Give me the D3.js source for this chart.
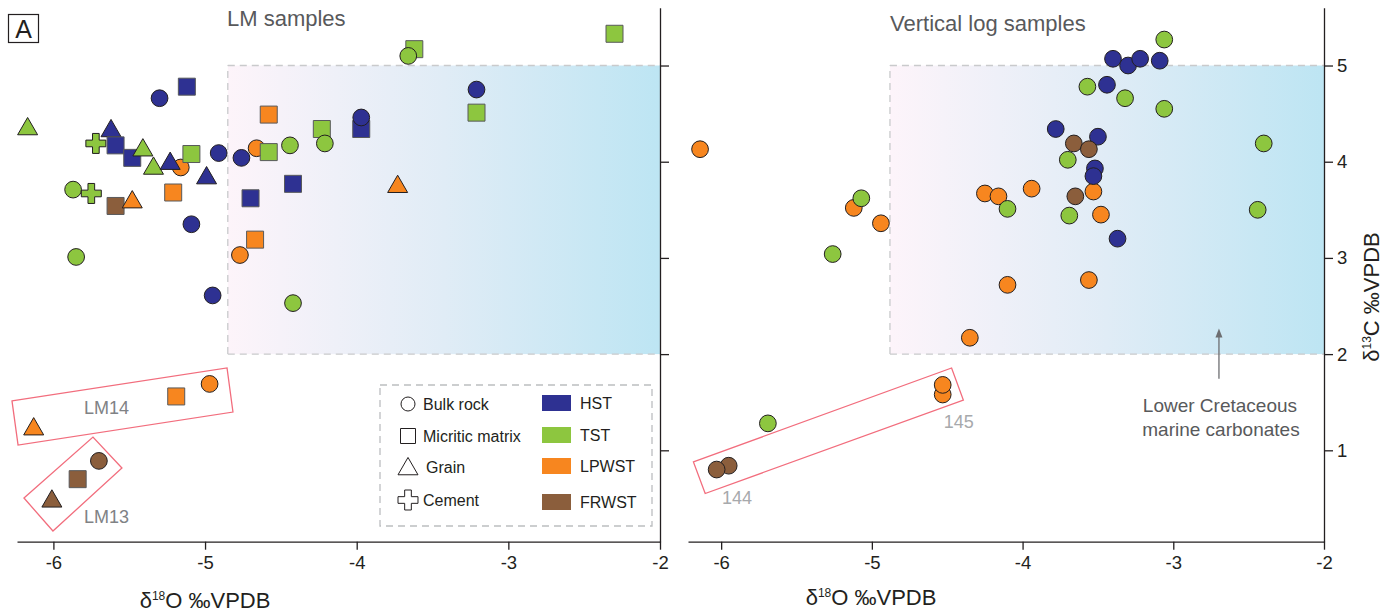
<!DOCTYPE html>
<html>
<head>
<meta charset="utf-8">
<script src="https://cdn.jsdelivr.net/npm/d3@7"></script>
<style>
  body { margin: 0; background: #fff; }
  svg { display: block; font-family: "Liberation Sans", Arial, sans-serif; }
</style>
</head>
<body>
<svg id="chart" width="1386" height="615"></svg>
<script>
const svg = d3.select("#chart");

// categories
const sequences = ["HST", "TST", "LPWST", "FRWST"];
const sequenceColours = ["#2e3192", "#8dc63f", "#f7861f", "#8b5e3c"];
const sampleTypes = ["Bulk rock", "Micritic matrix", "Grain", "Cement"];
const xTicks = [-6, -5, -4, -3, -2];
const yTicks = [1, 2, 3, 4, 5];

// LM samples (left panel)
const lmO18 = [-6.17, -5.30, -5.12, -5.72, -5.62, -5.59, -5.48, -5.41, -5.34, -5.16,
  -5.23, -5.09, -4.91, -4.99, -5.21, -5.87, -5.75, -5.59, -5.48, -5.09,
  -5.85, -4.95, -4.76, -4.66, -4.58, -4.44, -4.58, -4.70, -4.42, -4.67,
  -4.77, -4.42, -4.23, -4.21, -3.97, -3.97, -3.73, -3.21, -3.21, -3.62,
  -3.66, -2.30, -6.13, -5.19, -4.97, -5.70, -5.84, -6.01];
const lmC13 = [4.34, 4.66, 4.78, 4.19, 4.32, 4.17, 4.04, 4.12, 3.93, 3.94,
  3.98, 4.08, 4.09, 3.83, 3.68, 3.71, 3.67, 3.54, 3.58, 3.35,
  3.01, 2.61, 4.04, 4.14, 4.10, 4.17, 4.49, 3.62, 3.77, 3.19,
  3.03, 2.53, 4.34, 4.19, 4.34, 4.46, 3.74, 4.75, 4.51, 5.17,
  5.10, 5.33, 1.22, 1.56, 1.69, 0.89, 0.70, 0.47];
const lmSequence = ["TST", "HST", "HST", "TST", "HST", "HST", "HST", "TST", "TST", "LPWST",
  "HST", "TST", "HST", "HST", "LPWST", "TST", "TST", "FRWST", "LPWST", "HST",
  "TST", "HST", "HST", "LPWST", "TST", "TST", "LPWST", "HST", "HST", "LPWST",
  "LPWST", "TST", "TST", "TST", "HST", "HST", "LPWST", "HST", "TST", "TST",
  "TST", "TST", "LPWST", "LPWST", "LPWST", "FRWST", "FRWST", "FRWST"];
const lmType = ["Grain", "Bulk rock", "Micritic matrix", "Cement", "Grain", "Micritic matrix", "Micritic matrix", "Grain", "Grain", "Bulk rock",
  "Grain", "Micritic matrix", "Bulk rock", "Grain", "Micritic matrix", "Bulk rock", "Cement", "Micritic matrix", "Grain", "Bulk rock",
  "Bulk rock", "Bulk rock", "Bulk rock", "Bulk rock", "Micritic matrix", "Bulk rock", "Micritic matrix", "Micritic matrix", "Micritic matrix", "Micritic matrix",
  "Bulk rock", "Bulk rock", "Micritic matrix", "Bulk rock", "Micritic matrix", "Bulk rock", "Grain", "Bulk rock", "Micritic matrix", "Micritic matrix",
  "Bulk rock", "Micritic matrix", "Grain", "Micritic matrix", "Bulk rock", "Bulk rock", "Micritic matrix", "Grain"];

// vertical log samples (right panel, all bulk rock)
const logO18 = [-6.14, -5.12, -4.94, -4.35, -4.25, -4.16, -3.94, -4.10, -3.53, -3.48, -3.56, -4.53, -4.53,
  -5.07, -5.26, -4.10, -3.70, -3.69, -3.57, -3.32, -3.06, -3.06, -2.40, -2.44, -5.69,
  -3.78, -3.50, -3.52, -3.53, -3.37, -3.44, -3.40, -3.30, -3.22, -3.09,
  -3.66, -3.56, -3.65, -5.95, -6.03];
const logC13 = [4.13, 3.52, 3.36, 2.17, 3.67, 3.64, 3.72, 2.72, 3.69, 3.45, 2.77, 1.58, 1.68,
  3.62, 3.04, 3.51, 4.02, 3.44, 4.78, 4.66, 5.27, 4.55, 4.19, 3.50, 1.28,
  4.34, 4.26, 3.93, 3.85, 3.20, 4.80, 5.07, 5.00, 5.07, 5.05,
  4.19, 4.13, 3.64, 0.84, 0.80];
const logSequence = ["LPWST", "LPWST", "LPWST", "LPWST", "LPWST", "LPWST", "LPWST", "LPWST", "LPWST", "LPWST", "LPWST", "LPWST", "LPWST",
  "TST", "TST", "TST", "TST", "TST", "TST", "TST", "TST", "TST", "TST", "TST", "TST",
  "HST", "HST", "HST", "HST", "HST", "HST", "HST", "HST", "HST", "HST",
  "FRWST", "FRWST", "FRWST", "FRWST", "FRWST"];

// marine carbonate field (d18O from, d13C range)
const lmFieldO18 = [-4.85, -2];
const logFieldO18 = [-4.88, -2];
const fieldC13 = [2, 5];

// sample group outlines (corners in d18O / d13C)
const lm14Box = [[-6.273, 1.513], [-4.855, 1.856], [-4.816, 1.398], [-6.233, 1.055]];
const lm13Box = [[-6.194, 0.504], [-5.739, 1.138], [-5.548, 0.816], [-6.003, 0.161]];
const logBox = [[-6.184, 0.880], [-4.471, 1.856], [-4.393, 1.523], [-6.106, 0.551]];

const colour = d3.scaleOrdinal().domain(sequences).range(sequenceColours);

const xLeft = d3.scaleLinear().domain([-6.24, -2]).range([17, 660]);
const xRight = d3.scaleLinear().domain([-6.22, -2]).range([688, 1324]);
const y = d3.scaleLinear().domain([0.05, 5.6]).range([541.7, 7.8]);

function symbolFor(type, legend) {
    if (type === "Bulk rock") return d3.symbol(d3.symbolCircle, Math.PI * (legend ? 49 : 70));
    if (type === "Micritic matrix") return d3.symbol(d3.symbolSquare, legend ? 225 : 289);
    if (type === "Grain") return d3.symbol(d3.symbolTriangle, 173);
    return d3.symbol(d3.symbolCross, 222);
}

function addGradient() {
    const grad = svg.append("defs").append("linearGradient")
        .attr("id", "marine")
        .attr("x1", "0%").attr("x2", "100%").attr("y1", "0%").attr("y2", "0%");
    grad.append("stop").attr("offset", "0%").attr("stop-color", "#fdf4fa");
    grad.append("stop").attr("offset", "50%").attr("stop-color", "#e0ecf6");
    grad.append("stop").attr("offset", "100%").attr("stop-color", "#bde5f3");
}

function drawField(x, o18) {
    const g = svg.append("g");
    g.append("rect")
        .attr("x", x(o18[0]))
        .attr("y", y(fieldC13[1]))
        .attr("width", x(o18[1]) - x(o18[0]))
        .attr("height", y(fieldC13[0]) - y(fieldC13[1]))
        .attr("fill", "url(#marine)");
    const edges = [
        [[o18[0], fieldC13[1]], [o18[1], fieldC13[1]]],
        [[o18[0], fieldC13[0]], [o18[1], fieldC13[0]]],
        [[o18[0], fieldC13[0]], [o18[0], fieldC13[1]]]
    ];
    g.selectAll("line")
        .data(edges)
        .enter()
        .append("line")
            .attr("x1", (d) => x(d[0][0]))
            .attr("y1", (d) => y(d[0][1]))
            .attr("x2", (d) => x(d[1][0]))
            .attr("y2", (d) => y(d[1][1]))
            .attr("stroke", "#c9cacc")
            .attr("stroke-width", 1.3)
            .attr("stroke-dasharray", "7,5");
}

function drawAxes(x, showLabels) {
    const xa = svg.append("g")
        .attr("transform", "translate(0," + y.range()[0] + ")")
        .call(d3.axisBottom(x).tickValues(xTicks).tickFormat((d) => String(d))
            .tickSize(8).tickSizeOuter(0).tickPadding(6));
    const ya = svg.append("g")
        .attr("transform", "translate(" + x(-2) + ",0)")
        .call(d3.axisRight(y).tickValues(yTicks).tickSize(9).tickSizeOuter(0).tickPadding(4)
            .tickFormat((d) => showLabels ? String(d) : ""));
    [xa, ya].forEach((a) => {
        a.select(".domain").attr("stroke", "#231f20").attr("stroke-width", 1.3);
        a.selectAll(".tick line").attr("stroke", "#231f20").attr("stroke-width", 1.3);
        a.selectAll(".tick text").attr("fill", "#231f20").style("font-size", "18.5px")
            .style("font-family", "'Liberation Sans', Arial, sans-serif");
    });
}

function drawBox(x, corners) {
    svg.append("path")
        .attr("d", d3.line().x((d) => x(d[0])).y((d) => y(d[1]))(corners) + "Z")
        .attr("fill", "none")
        .attr("stroke", "#f26d7d")
        .attr("stroke-width", 1.3);
}

function addText(px, py, txt, size, fill, anchor) {
    return svg.append("text")
        .attr("x", px).attr("y", py)
        .attr("text-anchor", anchor || "start")
        .attr("fill", fill)
        .style("font-size", size + "px")
        .text(txt);
}

function drawIsoLabel(cx, by) {
    const t = svg.append("text")
        .attr("x", cx).attr("y", by)
        .attr("text-anchor", "middle")
        .attr("fill", "#231f20")
        .style("font-size", "22px");
    t.append("tspan").text("δ");
    t.append("tspan").attr("dy", -8).style("font-size", "12px").text("18");
    t.append("tspan").attr("dy", 8).text("O ‰VPDB");
}

function drawPoints(x, o18, c13, seq, type) {
    const data = o18.map((v, i) => ({o: v, c: c13[i], s: seq[i], t: type ? type[i] : "Bulk rock"}));
    svg.append("g").selectAll("path")
        .data(data)
        .enter()
        .append("path")
            .attr("d", (d) => symbolFor(d.t, false)())
            .attr("transform", (d) => "translate(" + x(d.o) + "," + y(d.c) + ")")
            .attr("fill", (d) => colour(d.s))
            .attr("stroke", (d) => d.t === "Micritic matrix" ? "#58595b" : "#231f20")
            .attr("stroke-width", 1);
}

function drawLegend() {
    const g = svg.append("g");
    g.append("rect")
        .attr("x", 380).attr("y", 385).attr("width", 272).attr("height", 141)
        .attr("fill", "#fff")
        .attr("stroke", "#bcbec0").attr("stroke-width", 1.3).attr("stroke-dasharray", "7,5");
    const rowY = [404, 436, 467, 500];
    g.selectAll(".ltype")
        .data(sampleTypes)
        .enter()
        .append("path")
            .attr("d", (d) => symbolFor(d, true)())
            .attr("transform", (d, i) => "translate(408," + (rowY[i] + (d === "Grain" ? 2 : 0)) + ")")
            .attr("fill", "#fff")
            .attr("stroke", "#231f20")
            .attr("stroke-width", 1);
    g.selectAll(".ltext")
        .data(sampleTypes)
        .enter()
        .append("text")
            .attr("x", (d) => d === "Grain" ? 426 : 423)
            .attr("y", (d, i) => rowY[i] + 6)
            .attr("fill", "#231f20")
            .style("font-size", "16px")
            .text((d) => d);
    const swY = [395, 427, 458, 494];
    g.selectAll(".swatch")
        .data(sequences)
        .enter()
        .append("rect")
            .attr("x", 542).attr("y", (d, i) => swY[i])
            .attr("width", 29).attr("height", 16)
            .attr("fill", (d) => colour(d));
    g.selectAll(".stext")
        .data(sequences)
        .enter()
        .append("text")
            .attr("x", 580).attr("y", (d, i) => swY[i] + 14)
            .attr("fill", "#231f20")
            .style("font-size", "16px")
            .text((d) => d);
}

function render() {
    addGradient();
    drawField(xLeft, lmFieldO18);
    drawField(xRight, logFieldO18);

    drawAxes(xLeft, false);
    drawAxes(xRight, true);

    // panel letter and titles
    svg.append("rect").attr("x", 8.5).attr("y", 14.5).attr("width", 30).attr("height", 28)
        .attr("fill", "none").attr("stroke", "#231f20").attr("stroke-width", 1.2);
    addText(23.5, 37.5, "A", 25, "#231f20", "middle");
    addText(227, 26, "LM samples", 22, "#58595b");
    addText(890, 31, "Vertical log samples", 22, "#58595b");

    drawIsoLabel(205, 608);
    drawIsoLabel(871, 605);
    const yl = svg.append("text")
        .attr("transform", "translate(1379,297) rotate(-90)")
        .attr("text-anchor", "middle")
        .attr("fill", "#231f20")
        .style("font-size", "22px");
    yl.append("tspan").text("δ");
    yl.append("tspan").attr("dy", -8).style("font-size", "12px").text("13");
    yl.append("tspan").attr("dy", 8).text("C ‰VPDB");

    drawLegend();

    drawBox(xLeft, lm14Box);
    drawBox(xLeft, lm13Box);
    drawBox(xRight, logBox);
    addText(xLeft(-5.65), y(1.44) + 6, "LM14", 18, "#808285", "middle");
    addText(xLeft(-5.65), y(0.31) + 6, "LM13", 18, "#808285", "middle");
    addText(xRight(-5.895), y(0.509) + 6, "144", 18, "#a7a9ac", "middle");
    addText(xRight(-4.424), y(1.294) + 6, "145", 18, "#a7a9ac", "middle");

    // arrow to the marine carbonate field
    const ax = xRight(-2.697);
    svg.append("line")
        .attr("x1", ax).attr("x2", ax).attr("y1", y(1.745)).attr("y2", y(2.24))
        .attr("stroke", "#6d6e71").attr("stroke-width", 1.3);
    svg.append("path")
        .attr("d", "M" + ax + "," + y(2.266) + "l-3.5,9h7Z")
        .attr("fill", "#6d6e71");
    addText(ax + 1, y(1.395), "Lower Cretaceous", 19, "#58595b", "middle");
    addText(ax + 2, y(1.152), "marine carbonates", 19, "#58595b", "middle");

    drawPoints(xLeft, lmO18, lmC13, lmSequence, lmType);
    drawPoints(xRight, logO18, logC13, logSequence, null);
}

render();
</script>
</body>
</html>
